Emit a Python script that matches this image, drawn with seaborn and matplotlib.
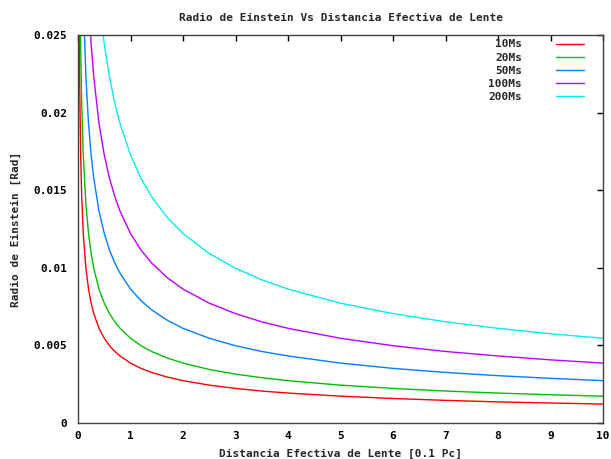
import numpy as np
import pandas as pd
import seaborn as sns
import matplotlib
matplotlib.use("Agg")
import matplotlib.pyplot as plt

# distance [0.1 Pc] sample points
dist = [0.01, 0.02, 0.03, 0.05, 0.07, 0.1, 0.15, 0.2, 0.25, 0.3, 0.4, 0.5, 0.6, 0.7, 0.8,
        1.0, 1.2, 1.4, 1.7, 2.0, 2.5, 3, 3.5, 4, 5, 6, 7, 8, 9, 10]

# Einstein radius [Rad] per lens mass
r_10 = [0.0386, 0.0273, 0.0223, 0.01726, 0.01459, 0.01221, 0.00997, 0.00863, 0.00772, 0.00705,
        0.00610, 0.00546, 0.00498, 0.00461, 0.00432, 0.00386, 0.00352, 0.00326, 0.00296, 0.00273,
        0.00244, 0.00223, 0.00206, 0.00193, 0.00173, 0.00158, 0.00146, 0.00136, 0.00129, 0.00122]
r_20 = [0.0546, 0.0386, 0.0315, 0.0244, 0.0206, 0.01727, 0.01410, 0.01221, 0.01092, 0.00997,
        0.00863, 0.00772, 0.00705, 0.00652, 0.00610, 0.00546, 0.00498, 0.00461, 0.00419, 0.00386,
        0.00345, 0.00315, 0.00292, 0.00273, 0.00244, 0.00223, 0.00206, 0.00193, 0.00182, 0.00173]
r_50 = [0.0863, 0.0610, 0.0498, 0.0386, 0.0326, 0.0273, 0.0223, 0.0193, 0.01727, 0.01576,
        0.01365, 0.01221, 0.01114, 0.01032, 0.00965, 0.00863, 0.00788, 0.00730, 0.00662, 0.00610,
        0.00546, 0.00498, 0.00461, 0.00432, 0.00386, 0.00352, 0.00326, 0.00305, 0.00288, 0.00273]
r_100 = [0.122, 0.0863, 0.0705, 0.0546, 0.0461, 0.0386, 0.0315, 0.0273, 0.0244, 0.0223,
         0.0193, 0.01727, 0.01576, 0.01459, 0.01365, 0.01221, 0.01114, 0.01032, 0.00936, 0.00863,
         0.00772, 0.00705, 0.00652, 0.00610, 0.00546, 0.00498, 0.00461, 0.00432, 0.00407, 0.00386]
r_200 = [0.1726, 0.1221, 0.0997, 0.0772, 0.0652, 0.0546, 0.0446, 0.0386, 0.0345, 0.0315,
         0.0273, 0.0244, 0.0223, 0.0206, 0.0193, 0.01727, 0.01576, 0.01459, 0.01324, 0.01221,
         0.01092, 0.00997, 0.00923, 0.00863, 0.00772, 0.00705, 0.00652, 0.00610, 0.00575, 0.00546]

masses = ["10Ms", "20Ms", "50Ms", "100Ms", "200Ms"]
colors = ["#ff0000", "#00c000", "#0080ff", "#c000ff", "#00eeee"]

df = pd.concat([pd.DataFrame({"x": dist, "y": r, "masa": m})
                for r, m in zip([r_10, r_20, r_50, r_100, r_200], masses)])

sns.set_style("white")
plt.rcParams['font.family'] = ['DejaVu Sans Mono']
plt.rcParams['font.weight'] = 'bold'
fs = 8

fig = plt.figure(figsize=(6.11, 4.59), dpi=100)
ax = fig.add_axes([0.1277, 0.0784, 0.8593, 0.8453])

sns.lineplot(data=df, x="x", y="y", hue="masa", palette=colors, hue_order=masses,
             linewidth=1.0, ax=ax, sort=False)

ax.set_xlim(0, 10)
ax.set_ylim(0, 0.025)
ax.set_xticks(range(0, 11))
ax.set_yticks([0, 0.005, 0.01, 0.015, 0.02, 0.025])
ax.set_yticklabels(["0", "0.005", "0.01", "0.015", "0.02", "0.025"])
ax.tick_params(direction="in", length=4, width=1, top=True, right=True,
               labelsize=fs, colors="black")
ax.tick_params(axis="x", pad=6)
ax.tick_params(axis="y", pad=8)
for s in ax.spines.values():
    s.set_color("#404040")
    s.set_linewidth(1)

ax.set_title("Radio de Einstein Vs Distancia Efectiva de Lente", fontsize=fs,
             fontweight="bold", pad=10)
ax.set_xlabel("Distancia Efectiva de Lente [0.1 Pc]", fontsize=fs, fontweight="bold", labelpad=5.5)
ax.set_ylabel("Radio de Einstein [Rad]", fontsize=fs, fontweight="bold", labelpad=9)

leg = ax.legend(loc="upper right", frameon=False, markerfirst=False, fontsize=fs,
                handlelength=2.6, handletextpad=3.0, labelspacing=0.28,
                borderaxespad=0.0, bbox_to_anchor=(0.973, 1.0))
for t in leg.get_texts():
    t.set_fontweight("bold")
    t.set_ha("right")

fig.savefig("out.png", dpi=100)
